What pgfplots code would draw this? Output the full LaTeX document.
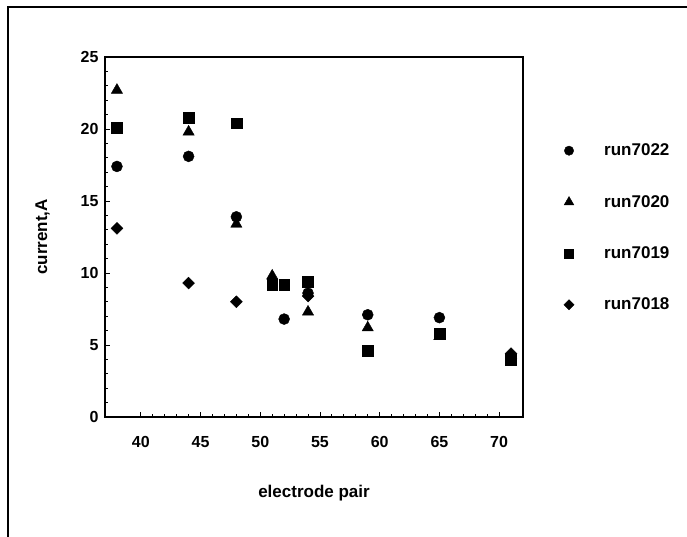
\documentclass[border=0pt]{standalone}
\usepackage{fontspec}
\setmainfont{Liberation Sans}
\usepackage{pgfplots}
\pgfplotsset{compat=1.18}
\begin{document}
\begin{tikzpicture}[x=1pt,y=1pt]
\useasboundingbox (0,0) rectangle (687,537);
\draw[line width=1.6pt] (8,0) -- (8,530) -- (687,530);
\begin{axis}[
  at={(105pt,120pt)}, anchor=south west,
  scale only axis, width=418pt, height=360pt,
  xmin=37, xmax=72, ymin=0, ymax=25,
  xtick={40,45,...,70}, ytick={0,5,...,25},
  minor x tick num=4, minor y tick num=4,
  tick pos=left, tick align=inside,
  major tick length=5pt, minor tick length=3pt,
  axis line style={line width=1.2pt},
  every tick/.style={black, line width=0.9pt},
  /pgf/number format/assume math mode=true,
  ticklabel style={font=\fontsize{16}{18}\selectfont\bfseries},
  xticklabel style={yshift=-16pt},
  yticklabel style={xshift=-3pt},
  xlabel={electrode pair}, ylabel={current,A},
  label style={font=\fontsize{17}{19}\selectfont\bfseries},
  xlabel style={yshift=-30pt},
  ylabel style={yshift=24pt},
  legend style={draw=none, at={(1.09,0.77)}, anchor=north west,
    font=\fontsize{17}{19}\selectfont\bfseries, row sep=34pt,
    legend cell align=left},
  legend image code/.code={\path (0pt,0pt) (38pt,0pt);
    \draw[every mark/.append style={scale=0.85}] plot coordinates {(5pt,0pt)};},
]
\addplot[only marks, mark=*, mark size=5.5pt, black] coordinates {
 (38,17.4) (44,18.1) (48,13.9) (52,6.8) (54,8.6) (59,7.1) (65,6.9) };
\addlegendentry{run7022}
\addplot[only marks, mark=triangle*, mark size=6.5pt, black] coordinates {
 (38,22.7) (44,19.8) (48,13.4) (51,9.8) (54,7.3) (59,6.2) (65,5.6) (71,4.3) };
\addlegendentry{run7020}
\addplot[only marks, mark=square*, mark size=5.4pt, black] coordinates {
 (38,20.1) (44,20.8) (48,20.4) (51,9.2) (52,9.2) (54,9.4) (59,4.6) (65,5.8) (71,4.0) };
\addlegendentry{run7019}
\addplot[only marks, mark=square*, mark size=4.2pt, mark options={rotate=45}, black] coordinates {
 (38,13.1) (44,9.3) (48,8.0) (54,8.4) (71,4.4) };
\addlegendentry{run7018}
\end{axis}
\end{tikzpicture}
\end{document}
